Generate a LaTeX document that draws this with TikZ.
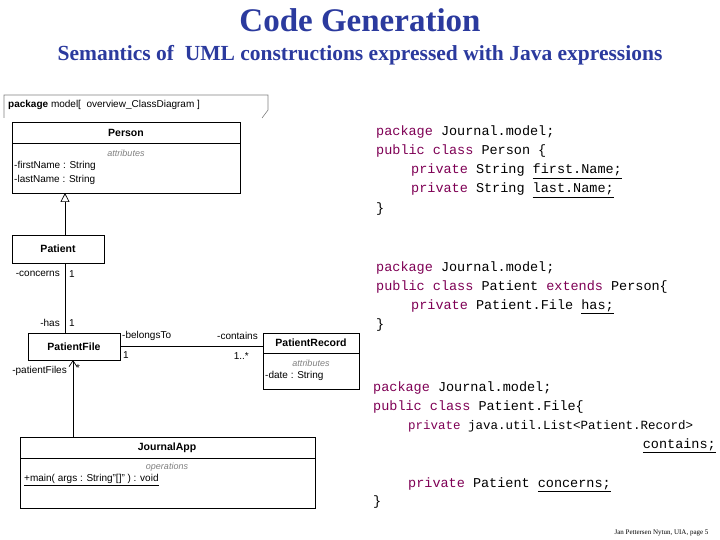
\documentclass[tikz,border=0pt]{standalone}
\usepackage{fontspec}
\setmainfont{Liberation Serif}
\setsansfont{Liberation Sans}
\setmonofont{Liberation Mono}
\usetikzlibrary{arrows.meta}
\definecolor{ttl}{HTML}{2B3A9E}
\definecolor{kw}{HTML}{7F0055}
\newcommand{\kw}[1]{\textcolor{kw}{#1}}
\newcommand{\ul}[1]{\underline{#1}}
\begin{document}
\begin{tikzpicture}[x=1pt,y=-1pt,
  cls/.style={draw,line width=0.9pt,fill=white},
  lab/.style={font=\sffamily\fontsize{10}{11}\selectfont,inner sep=1pt},
  hdr/.style={font=\sffamily\bfseries\fontsize{10.5}{12}\selectfont,inner sep=0pt},
  sect/.style={font=\sffamily\itshape\fontsize{9}{10}\selectfont,text=gray,inner sep=0pt},
  code/.style={font=\ttfamily\fontsize{13.5}{19}\selectfont,anchor=base west,inner sep=0pt},
  assoc/.style={draw,line width=0.7pt}]
\useasboundingbox (0,0) rectangle (720,540);
\fill[white] (0,0) rectangle (720,540);
% titles
\node[font=\bfseries\fontsize{33}{35}\selectfont,text=ttl] (title) at (360,20) {Code Generation};
\node[font=\bfseries\fontsize{21.5}{23}\selectfont,text=ttl] (sub) at (360,55) {Semantics of\ \ UML constructions expressed with Java expressions};
% package tab
\draw[line width=0.6pt,gray] (4,118) -- (4,95) -- (268,95) -- (268,110) -- (262,118);
\node[anchor=west,font=\sffamily\fontsize{10}{11}\selectfont,inner sep=0pt] (pkg) at (8,105) {\textbf{package} model[ \ overview\_ClassDiagram ]};
% Person
\draw[cls] (12,122) rectangle (240,193);
\draw[line width=0.9pt] (12,143) -- (240,143);
\node[hdr] (person) at (126,133) {Person};
\node[sect] (pa) at (126,153) {attributes};
\node[lab,anchor=west] (p1) at (13,166) {-firstName : String};
\node[lab,anchor=west] (p2) at (13,180) {-lastName : String};
% Patient
\node[cls,minimum width=92pt,minimum height=28pt,hdr,inner sep=0pt] (patient) at (58,249) {Patient};
% PatientFile
\node[cls,minimum width=92pt,minimum height=27pt,hdr,inner sep=0pt] (pfile) at (74,346.5) {PatientFile};
% PatientRecord
\draw[cls] (263,333) rectangle (359,389);
\draw[line width=0.9pt] (263,353) -- (359,353);
\node[hdr] (prec) at (311,343) {PatientRecord};
\node[sect] (pra) at (311,363) {attributes};
\node[lab,anchor=west] (pr1) at (264,376) {-date : String};
% JournalApp
\draw[cls] (20,437) rectangle (315,508);
\draw[line width=0.9pt] (20,458) -- (315,458);
\node[hdr] (japp) at (167,448) {JournalApp};
\node[sect] (jo) at (167,467) {operations};
\node[lab,anchor=west] (j1) at (23,480) {\underline{+main( args : String"[]" ) : void}};
% connectors
\coordinate (gtop) at (65,193);
\coordinate (gbot) at (65,235);
\draw[assoc,-{Triangle[open,length=9pt,width=9pt]}] (gbot) -- (gtop);
\draw[assoc] (patient.south) ++(7,0) coordinate (a1) -- (a1 |- pfile.north);
\draw[assoc] (pfile.east) -- (263,346.5) coordinate (precw);
\coordinate (jtop) at (73,437);
\draw[assoc,-{Straight Barb[length=6pt,width=8pt]}] (jtop) -- (73,360);
% association labels
\node[lab,anchor=east] (l1) at (61,274) {-concerns};
\node[lab,anchor=west] (l2) at (68,274) {1};
\node[lab,anchor=east] (l3) at (61,323) {-has};
\node[lab,anchor=west] (l4) at (68,323) {1};
\node[lab,anchor=west] (l5) at (121,336) {-belongsTo};
\node[lab,anchor=east] (l6) at (259,336) {-contains};
\node[lab,anchor=west] (l7) at (122,355) {1};
\node[lab,anchor=east] (l8) at (250,356) {1..*};
\node[lab,anchor=east] (l9) at (68,371) {-patientFiles};
\node[lab,anchor=west] (l10) at (75,368) {*};
% code
\node[code] (c1) at (376,136) {\kw{package} Journal.model;};
\node[code] (c2) at (376,155) {\kw{public} \kw{class} Person \{};
\node[code] (c3) at (411,174) {\kw{private} String \ul{first.Name;}};
\node[code] (c4) at (411,193) {\kw{private} String \ul{last.Name;}};
\node[code] (c5) at (376,212) {\}};
\node[code] (d1) at (376,271) {\kw{package} Journal.model;};
\node[code] (d2) at (376,290) {\kw{public} \kw{class} Patient \kw{extends} Person\{};
\node[code] (d3) at (411,309) {\kw{private} Patient.File \ul{has;}};
\node[code] (d4) at (376,328) {\}};
\node[code] (e1) at (373,391) {\kw{package} Journal.model;};
\node[code] (e2) at (373,410) {\kw{public} \kw{class} Patient.File\{};
\node[code,font=\ttfamily\fontsize{12.5}{19}\selectfont] (e3) at (408,429) {\kw{private} java.util.List<Patient.Record>};
\node[code,anchor=base east] (e4) at (716,448) {\ul{contains;}};
\node[code] (e5) at (408,487) {\kw{private} Patient \ul{concerns;}};
\node[code] (e6) at (373,505) {\}};
\node[font=\fontsize{7}{8}\selectfont,anchor=east] (foot) at (712,533) {Jan Pettersen Nytun, UIA, page 5};
\end{tikzpicture}
\end{document}
